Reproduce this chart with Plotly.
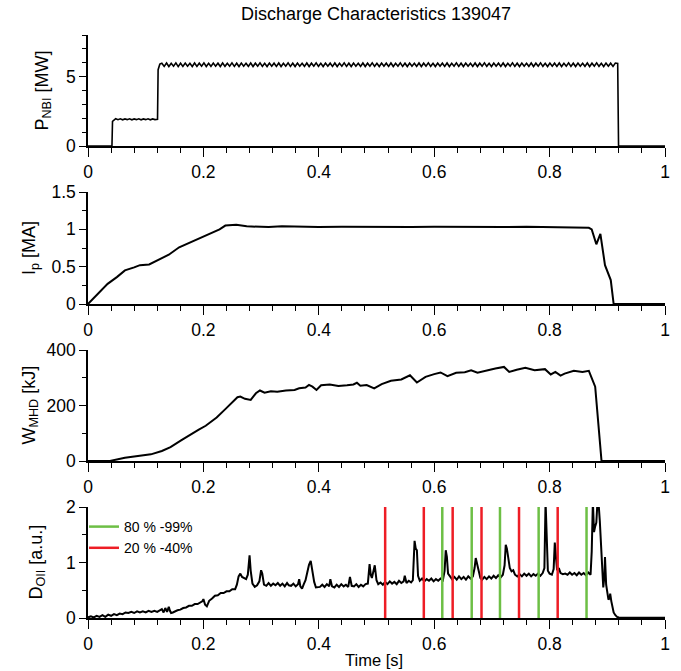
import numpy as np
import plotly.graph_objects as go

# ---------------- data ----------------
# P_NBI [MW]
pnbi_t_head = [0.0, 0.0415, 0.0425, 0.048, 0.052, 0.056, 0.060, 0.064, 0.068, 0.072, 0.076, 0.080,
               0.084, 0.088, 0.092, 0.096, 0.100, 0.104, 0.108, 0.112, 0.116, 0.1205, 0.1215, 0.1245]
pnbi_v_head = [0.0, 0.0, 1.78, 1.97, 1.90, 1.96, 1.89, 1.95, 1.90, 1.96, 1.89, 1.95,
               1.90, 1.96, 1.89, 1.95, 1.90, 1.96, 1.89, 1.95, 1.90, 1.92, 5.50, 5.90]
pnbi_osc = [5.97, 5.74, 5.98, 5.73, 5.96, 5.75, 5.99, 5.72, 5.97, 5.74, 5.98, 5.75, 5.96, 5.73, 5.98, 5.74,
            5.97, 5.75, 5.99, 5.73, 5.96, 5.74, 5.98, 5.75, 5.97, 5.73, 5.98, 5.74, 5.96, 5.75, 5.99, 5.74,
            5.97, 5.73, 5.98, 5.75, 5.96, 5.74, 5.98, 5.73, 5.97, 5.75, 5.99, 5.74, 5.96, 5.73, 5.98, 5.75,
            5.97, 5.74, 5.98, 5.73, 5.96, 5.75, 5.99, 5.74, 5.97, 5.73, 5.98, 5.75, 5.96, 5.74, 5.98, 5.73,
            5.97, 5.75, 5.99, 5.74, 5.96, 5.73, 5.98, 5.75, 5.97, 5.74, 5.98, 5.73, 5.96, 5.75, 5.99, 5.74,
            5.97, 5.73, 5.98, 5.75, 5.96, 5.74, 5.98, 5.73, 5.97, 5.75, 5.99, 5.74, 5.96, 5.73, 5.98, 5.75,
            5.97, 5.74, 5.98, 5.73, 5.96, 5.75, 5.99, 5.74, 5.97, 5.73, 5.98, 5.75, 5.96, 5.74, 5.98, 5.73,
            5.97, 5.75, 5.99, 5.74, 5.96, 5.73, 5.98, 5.75, 5.97, 5.74, 5.98, 5.73, 5.96, 5.75, 5.99, 5.74,
            5.97, 5.73, 5.98, 5.75, 5.96, 5.74, 5.98, 5.73, 5.97, 5.75, 5.99, 5.74, 5.96, 5.73, 5.98, 5.75,
            5.97, 5.74, 5.98, 5.73, 5.96, 5.75, 5.99, 5.74, 5.97, 5.73, 5.98, 5.75, 5.96, 5.74, 5.98, 5.73,
            5.97, 5.75, 5.99, 5.74, 5.96, 5.73, 5.98, 5.75, 5.97, 5.74, 5.98, 5.73, 5.96, 5.75, 5.99, 5.74,
            5.97, 5.73, 5.98, 5.75, 5.96, 5.74, 5.98, 5.73, 5.97, 5.75, 5.99, 5.74, 5.96, 5.73, 5.98, 5.75,
            5.97, 5.74, 5.98, 5.95]
pnbi_osc_start, pnbi_osc_end = 0.128, 0.918
pnbi_t_tail = [0.9195, 1.0]
pnbi_v_tail = [0.0, 0.0]

# I_p [MA]
ip_t = [0, 0.015, 0.034, 0.05, 0.064, 0.08, 0.09, 0.106, 0.12, 0.14, 0.158, 0.17, 0.181, 0.196, 0.204,
        0.215, 0.228, 0.238, 0.257, 0.275, 0.3, 0.313, 0.336, 0.36, 0.4, 0.44, 0.48, 0.52, 0.56, 0.6,
        0.64, 0.68, 0.72, 0.76, 0.8, 0.842, 0.868, 0.873, 0.881, 0.888, 0.896, 0.906, 0.911, 1.0]
ip_v = [0, 0.12, 0.27, 0.36, 0.45, 0.49, 0.52, 0.53, 0.58, 0.66, 0.76, 0.80, 0.84, 0.89, 0.91,
        0.95, 1.0, 1.05, 1.06, 1.04, 1.03, 1.03, 1.04, 1.035, 1.03, 1.035, 1.03, 1.035, 1.03, 1.035,
        1.03, 1.035, 1.03, 1.035, 1.03, 1.03, 1.02, 1.0, 0.80, 0.94, 0.52, 0.32, 0.0, 0.0]

# W_MHD [kJ]
w_t = [0, 0.038, 0.064, 0.094, 0.109, 0.128, 0.143, 0.162, 0.177, 0.192, 0.204, 0.223, 0.238, 0.249,
       0.259, 0.264, 0.272, 0.282, 0.291, 0.298, 0.306, 0.317, 0.328, 0.343, 0.358, 0.366, 0.377, 0.383,
       0.389, 0.396, 0.404, 0.419, 0.434, 0.449, 0.46, 0.466, 0.472, 0.483, 0.496, 0.509, 0.525, 0.543,
       0.558, 0.57, 0.585, 0.6, 0.611, 0.623, 0.638, 0.653, 0.664, 0.675, 0.691, 0.706, 0.721, 0.73,
       0.743, 0.758, 0.774, 0.792, 0.802, 0.81, 0.819, 0.826, 0.842, 0.857, 0.868, 0.879, 0.89, 1.0]
w_v = [0, 0, 12, 20, 24, 36, 50, 75, 95, 113, 127, 157, 187, 208,
       230, 232, 224, 220, 244, 254, 246, 251, 250, 254, 256, 262, 265, 274,
       268, 256, 273, 276, 270, 273, 276, 282, 271, 274, 262, 277, 289, 294,
       309, 283, 303, 313, 319, 306, 318, 320, 327, 318, 327, 333, 339, 321,
       329, 336, 327, 331, 312, 321, 308, 315, 325, 321, 325, 268, 0, 0]

# D_OII [a.u.]
d_t = [0.000, 0.005, 0.010, 0.015, 0.020, 0.025, 0.030, 0.035, 0.040, 0.045, 0.050, 0.055, 0.060, 0.065,
       0.070, 0.075, 0.080, 0.085, 0.090, 0.095, 0.100, 0.105, 0.110, 0.115, 0.120, 0.125, 0.128, 0.131,
       0.134, 0.137, 0.140, 0.142, 0.144, 0.147, 0.150, 0.155, 0.160, 0.165, 0.170, 0.175, 0.180, 0.185,
       0.190, 0.195, 0.198, 0.200, 0.203, 0.206, 0.210, 0.215, 0.220, 0.225, 0.230, 0.235, 0.240, 0.245,
       0.250, 0.255, 0.258, 0.261, 0.264, 0.267, 0.270, 0.274, 0.277, 0.280, 0.282, 0.285, 0.289, 0.293,
       0.297, 0.300, 0.302, 0.305, 0.309, 0.313, 0.317, 0.321, 0.325, 0.329, 0.333, 0.337, 0.341, 0.345,
       0.348, 0.352, 0.356, 0.360, 0.364, 0.366, 0.368, 0.371, 0.374, 0.377, 0.380, 0.383, 0.386, 0.389,
       0.392, 0.395, 0.398, 0.402, 0.406, 0.410, 0.414, 0.418, 0.420, 0.423, 0.427, 0.431, 0.435, 0.439,
       0.443, 0.447, 0.451, 0.454, 0.457, 0.461, 0.465, 0.469, 0.473, 0.477, 0.481, 0.485, 0.488, 0.490,
       0.492, 0.495, 0.497, 0.500, 0.503, 0.507, 0.511, 0.515, 0.519, 0.523, 0.527, 0.531, 0.535, 0.539,
       0.543, 0.547, 0.549, 0.552, 0.556, 0.560, 0.563, 0.566, 0.568, 0.570, 0.572, 0.575, 0.579, 0.583,
       0.587, 0.591, 0.595, 0.599, 0.603, 0.607, 0.611, 0.615, 0.618, 0.620, 0.622, 0.624, 0.627, 0.631,
       0.635, 0.639, 0.643, 0.647, 0.651, 0.655, 0.659, 0.663, 0.667, 0.670, 0.672, 0.674, 0.677, 0.680,
       0.683, 0.687, 0.691, 0.695, 0.699, 0.703, 0.707, 0.711, 0.715, 0.719, 0.722, 0.724, 0.726, 0.728,
       0.731, 0.734, 0.737, 0.740, 0.744, 0.748, 0.752, 0.756, 0.760, 0.764, 0.768, 0.772, 0.776, 0.780,
       0.784, 0.788, 0.791, 0.793, 0.795, 0.797, 0.800, 0.804, 0.807, 0.809, 0.811, 0.813, 0.816, 0.819,
       0.823, 0.827, 0.831, 0.835, 0.839, 0.843, 0.847, 0.851, 0.855, 0.859, 0.863, 0.867, 0.871, 0.873,
       0.875, 0.877, 0.879, 0.881, 0.883, 0.885, 0.887, 0.889, 0.891, 0.893, 0.895, 0.896, 0.898, 0.900,
       0.902, 0.904, 0.905, 0.907, 0.909, 0.911, 0.914, 0.917, 0.920, 0.950, 0.980, 1.000]
d_v = [0.01, 0.03, 0.01, 0.04, 0.02, 0.05, 0.02, 0.06, 0.04, 0.07, 0.05, 0.08, 0.07, 0.10,
       0.09, 0.11, 0.09, 0.12, 0.10, 0.12, 0.10, 0.13, 0.11, 0.13, 0.11, 0.14, 0.16, 0.10,
       0.18, 0.11, 0.20, 0.13, 0.09, 0.10, 0.12, 0.14, 0.15, 0.18, 0.19, 0.22, 0.22, 0.25,
       0.25, 0.28, 0.30, 0.34, 0.24, 0.21, 0.31, 0.35, 0.40, 0.41, 0.45, 0.45, 0.48, 0.48,
       0.52, 0.52, 0.60, 0.75, 0.80, 0.74, 0.72, 0.70, 0.78, 1.13, 0.85, 0.62, 0.56, 0.59,
       0.66, 0.86, 0.80, 0.60, 0.58, 0.63, 0.58, 0.62, 0.59, 0.63, 0.58, 0.62, 0.57, 0.63,
       0.59, 0.58, 0.62, 0.57, 0.61, 0.70, 0.57, 0.53, 0.61, 0.68, 0.82, 0.96, 1.03, 0.85,
       0.65, 0.55, 0.56, 0.56, 0.60, 0.56, 0.61, 0.57, 0.70, 0.57, 0.55, 0.60, 0.56, 0.61,
       0.57, 0.60, 0.56, 0.74, 0.58, 0.57, 0.61, 0.56, 0.60, 0.57, 0.61, 0.62, 0.97, 0.78,
       0.72, 0.86, 0.95, 0.68, 0.61, 0.64, 0.60, 0.65, 0.61, 0.66, 0.62, 0.65, 0.61, 0.67,
       0.63, 0.66, 0.76, 0.63, 0.67, 0.64, 0.68, 1.39, 1.25, 1.22, 0.76, 0.67, 0.71, 0.66,
       0.70, 0.67, 0.71, 0.66, 0.70, 0.67, 0.71, 0.68, 0.85, 1.22, 1.10, 0.80, 0.75, 0.70,
       0.74, 0.69, 0.75, 0.70, 0.74, 0.69, 0.75, 0.71, 0.75, 0.90, 1.08, 1.00, 0.84, 0.72,
       0.69, 0.74, 0.70, 0.75, 0.71, 0.76, 0.72, 0.77, 0.73, 0.78, 0.95, 1.32, 1.25, 1.13,
       0.90, 0.84, 0.86, 0.78, 0.75, 0.79, 0.75, 0.80, 0.76, 0.80, 0.75, 0.79, 0.76, 0.80,
       0.76, 0.81, 0.90, 2.10, 1.60, 0.85, 0.80, 0.78, 0.88, 1.36, 1.10, 0.86, 0.90, 0.81,
       0.79, 0.80, 0.78, 0.82, 0.78, 0.81, 0.77, 0.82, 0.78, 0.81, 0.77, 0.82, 0.78, 1.20,
       2.10, 1.55, 1.65, 1.72, 2.10, 2.05, 1.75, 1.30, 0.80, 0.55, 0.75, 1.10, 0.60, 0.42,
       0.33, 0.36, 0.44, 0.30, 0.18, 0.10, 0.05, 0.02, 0.01, 0.01, 0.005, 0.005]

# timing markers
green_times = [0.614, 0.665, 0.714, 0.781, 0.864]
red_times = [0.515, 0.582, 0.632, 0.682, 0.747, 0.814]
green_label = "80 % -99%"
red_label = "20 % -40%"

# axis tick labels
x_ticks = [0, 0.2, 0.4, 0.6, 0.8, 1]
x_ticktext = ["0", "0.2", "0.4", "0.6", "0.8", "1"]
x_minor = [0.04, 0.08, 0.12, 0.16, 0.24, 0.28, 0.32, 0.36, 0.44, 0.48,
           0.52, 0.56, 0.64, 0.68, 0.72, 0.76, 0.84, 0.88, 0.92, 0.96]

# ---------------- figure ----------------
W, H = 681, 671
L, R = 88, 665


def ydom(top, bottom):
    return [1 - bottom / H, 1 - top / H]


panels = [(35, 146), (192, 304), (350, 461), (507, 618)]
font_family = "Liberation Sans, Arial, Helvetica, sans-serif"

pnbi_osc_t = np.linspace(pnbi_osc_start, pnbi_osc_end, len(pnbi_osc))
pnbi_t = list(pnbi_t_head) + list(pnbi_osc_t) + list(pnbi_t_tail)
pnbi_v = list(pnbi_v_head) + list(pnbi_osc) + list(pnbi_v_tail)

fig = go.Figure()
fig.add_trace(go.Scatter(x=pnbi_t, y=pnbi_v, mode="lines", line=dict(color="black", width=1.6),
                         xaxis="x", yaxis="y", showlegend=False))
fig.add_trace(go.Scatter(x=ip_t, y=ip_v, mode="lines", line=dict(color="black", width=2),
                         xaxis="x2", yaxis="y2", showlegend=False))
fig.add_trace(go.Scatter(x=w_t, y=w_v, mode="lines", line=dict(color="black", width=2),
                         xaxis="x3", yaxis="y3", showlegend=False))
fig.add_trace(go.Scatter(x=d_t, y=d_v, mode="lines", line=dict(color="black", width=2),
                         xaxis="x4", yaxis="y4", showlegend=False))


def vlines(times):
    xs, ys = [], []
    for t in times:
        xs += [t, t, None]
        ys += [0, 2, None]
    return xs, ys


gx, gy = vlines(green_times)
rx, ry = vlines(red_times)
fig.add_trace(go.Scatter(x=gx, y=gy, mode="lines", line=dict(color="#6dbf45", width=2.5),
                         name=green_label, xaxis="x4", yaxis="y4"))
fig.add_trace(go.Scatter(x=rx, y=ry, mode="lines", line=dict(color="#ee1d25", width=2.5),
                         name=red_label, xaxis="x4", yaxis="y4"))

tickfont = dict(family=font_family, size=17.5, color="black")
xcommon = dict(range=[0, 1], domain=[0, 1], showgrid=False, zeroline=False, showline=True,
               linecolor="black", linewidth=1.5, ticks="outside", ticklen=9, tickwidth=1.3,
               tickcolor="black", tickvals=x_ticks, ticktext=x_ticktext, tickfont=tickfont,
               automargin=False,
               minor=dict(tickvals=x_minor, ticks="outside", ticklen=5, tickwidth=1.2,
                          tickcolor="black", showgrid=False))
ycommon = dict(showgrid=False, zeroline=False, showline=True, linecolor="black", linewidth=1.5,
               ticks="outside", ticklen=7, tickwidth=1.3, tickcolor="black", tickfont=tickfont,
               automargin=False)

yspecs = [([0, 8], 5, 1), ([0, 1.5], 0.5, 0.25), ([0, 400], 200, 100), ([0, 2], 1, 0.5)]

layout = dict(width=W, height=H, margin=dict(l=L, r=W - R, t=0, b=0, autoexpand=False),
              plot_bgcolor="white", paper_bgcolor="white",
              font=dict(family=font_family, color="black"))
for i, ((top, bot), (rng, dt, mdt)) in enumerate(zip(panels, yspecs)):
    sfx = "" if i == 0 else str(i + 1)
    layout["xaxis" + sfx] = dict(xcommon, anchor="y" + sfx)
    layout["yaxis" + sfx] = dict(ycommon, anchor="x" + sfx, domain=ydom(top, bot), range=rng,
                                 tick0=0, dtick=dt,
                                 minor=dict(tick0=0, dtick=mdt, ticks="outside", ticklen=4,
                                            tickwidth=1.2, tickcolor="black", showgrid=False))
fig.update_layout(**layout)

fig.update_layout(
    title=dict(text="Discharge Characteristics 139047", x=(376 - L) / (R - L), xref="paper",
               xanchor="center", y=1 - 14 / H, yanchor="middle",
               font=dict(family=font_family, size=18, color="black")),
    legend=dict(x=(84 - L) / (R - L), y=1 - 511 / H, xanchor="left", yanchor="top",
                bgcolor="rgba(0,0,0,0)", font=dict(family=font_family, size=14, color="black"),
                tracegroupgap=0, itemwidth=30),
)

ylabels = [("P<sub>NBI</sub> [MW]", 43), ("I<sub>p</sub> [MA]", 30),
           ("W<sub>MHD</sub> [kJ]", 30), ("D<sub>OII</sub> [a.u.]", 37)]
for (txt, xc), (top, bot) in zip(ylabels, panels):
    fig.add_annotation(text=txt, textangle=-90, xref="paper", yref="paper",
                       x=(xc - L) / (R - L), y=1 - ((top + bot) / 2) / H,
                       xanchor="center", yanchor="middle", showarrow=False,
                       font=dict(family=font_family, size=18, color="black"))
fig.add_annotation(text="Time [s]", xref="paper", yref="paper", x=(374 - L) / (R - L),
                   y=1 - 660 / H, xanchor="center", yanchor="middle", showarrow=False,
                   font=dict(family=font_family, size=16.5, color="black"))

fig.write_html("out.html")
